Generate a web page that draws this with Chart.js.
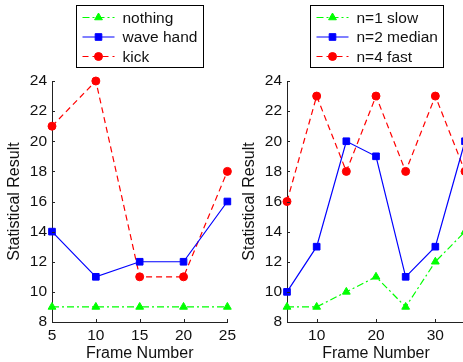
<!DOCTYPE html>
<html>
<head>
<meta charset="utf-8">
<script src="https://cdn.jsdelivr.net/npm/chart.js@4/dist/chart.umd.min.js"></script>
<style>
  html, body { margin: 0; padding: 0; background: #fff; }
  #wrap { position: relative; width: 463px; height: 362px; overflow: hidden; background: #fff; }
  canvas { position: absolute; top: 0; }
</style>
</head>
<body>
<div id="wrap">
  <canvas id="left" width="240" height="362" style="left:0px"></canvas>
  <canvas id="right" width="240" height="362" style="left:235px"></canvas>
</div>
<script>
// left panel: actions
const framesA = [5, 10, 15, 20, 25];
const nothing = [9, 9, 9, 9, 9];
const waveHand = [14, 11, 12, 12, 16];
const kick = [21, 24, 11, 11, 18];
const ticksA = [5, 10, 15, 20, 25];

// right panel: speeds
const framesB = [5, 10, 15, 20, 25, 30, 35];
const slow = [9, 9, 10, 11, 9, 12, 14];
const median = [10, 13, 20, 19, 11, 13, 20];
const fast = [16, 23, 18, 23, 18, 23, 18];
const ticksB = [10, 20, 30];

const yTicks = [8, 10, 12, 14, 16, 18, 20, 22, 24];

const FONT = "'Liberation Sans', Arial, sans-serif";
Chart.defaults.font.family = FONT;
Chart.defaults.color = "#111";

const pts = (xs, ys) => xs.map((x, i) => ({ x: x, y: ys[i] }));

function series(label, xs, ys, color, dash, style, r) {
  return {
    label: label,
    data: pts(xs, ys),
    borderColor: color,
    backgroundColor: color,
    borderWidth: 1.2,
    borderDash: dash,
    pointStyle: style,
    pointRadius: r,
    pointHoverRadius: r,
    pointBorderWidth: 1,
    tension: 0,
    clip: false,
  };
}

function marker(ctx, style, x, y, r) {
  ctx.beginPath();
  if (style === "circle") {
    ctx.arc(x, y, r, 0, Math.PI * 2);
  } else if (style === "rect") {
    const s = r * Math.SQRT1_2;
    ctx.rect(x - s, y - s, 2 * s, 2 * s);
  } else {
    for (let k = 0; k < 3; k++) {
      const a = (k * 2 * Math.PI) / 3;
      const px = x + Math.sin(a) * r, py = y - Math.cos(a) * r;
      k ? ctx.lineTo(px, py) : ctx.moveTo(px, py);
    }
    ctx.closePath();
  }
  ctx.fill();
  ctx.stroke();
}

// boxed legend above the plot, matlab style
const boxLegend = {
  id: "boxLegend",
  afterDraw(chart) {
    const { ctx, chartArea } = chart;
    const sets = chart.data.datasets;
    ctx.save();
    ctx.font = "15.5px " + FONT;
    const textX = 46;
    const maxW = Math.max(...sets.map((d) => ctx.measureText(d.label).width));
    const w = Math.round(textX + maxW + 6);
    const h = 62;
    const left = Math.round((chartArea.left + chartArea.right) / 2 - w / 2) + 0.5;
    const top = 5.5;
    ctx.fillStyle = "#fff";
    ctx.fillRect(left, top, w, h);
    ctx.strokeStyle = "#000";
    ctx.lineWidth = 1;
    ctx.strokeRect(left, top, w, h);
    sets.forEach((d, i) => {
      const y = top + 12 + i * 19.5;
      ctx.strokeStyle = d.borderColor;
      ctx.lineWidth = d.borderWidth;
      ctx.setLineDash(d.borderDash || []);
      ctx.beginPath();
      ctx.moveTo(left + 6, y);
      ctx.lineTo(left + 38, y);
      ctx.stroke();
      ctx.setLineDash([]);
      ctx.fillStyle = d.backgroundColor;
      ctx.lineWidth = 1;
      marker(ctx, d.pointStyle, left + 22, y, d.pointRadius);
      ctx.fillStyle = "#111";
      ctx.textBaseline = "middle";
      ctx.textAlign = "left";
      ctx.fillText(d.label, left + textX, y + 1);
    });
    ctx.restore();
  },
};

// small inward tick marks
const inTicks = {
  id: "inTicks",
  afterDraw(chart) {
    const { ctx, chartArea, scales } = chart;
    ctx.save();
    ctx.strokeStyle = "#222";
    ctx.lineWidth = 1;
    ctx.beginPath();
    scales.x.ticks.forEach((t) => {
      const x = Math.round(scales.x.getPixelForValue(t.value)) + 0.5;
      ctx.moveTo(x, chartArea.bottom);
      ctx.lineTo(x, chartArea.bottom - 3);
    });
    scales.y.ticks.forEach((t) => {
      const y = Math.round(scales.y.getPixelForValue(t.value)) + 0.5;
      ctx.moveTo(chartArea.left, y);
      ctx.lineTo(chartArea.left + 3, y);
    });
    ctx.stroke();
    ctx.restore();
  },
};

function makeChart(id, datasets, xMin, xMax, xTicks, rightPad) {
  new Chart(document.getElementById(id), {
    type: "line",
    data: { datasets: datasets },
    options: {
      responsive: false,
      animation: false,
      events: [],
      layout: { padding: { top: 81, right: rightPad, bottom: 0, left: 0 } },
      plugins: { legend: { display: false }, tooltip: { enabled: false } },
      scales: {
        x: {
          type: "linear",
          min: xMin,
          max: xMax,
          afterBuildTicks: (s) => { s.ticks = xTicks.map((v) => ({ value: v })); },
          afterFit: (s) => { s.height = 40; },
          grid: { display: false, drawTicks: false },
          border: { display: true, color: "#222", width: 1 },
          ticks: { font: { size: 15.5 }, padding: 4, maxRotation: 0, autoSkip: false },
          title: { display: true, text: "Frame Number", font: { size: 16, lineHeight: 1 }, padding: 0 },
        },
        y: {
          min: 8,
          max: 24,
          afterBuildTicks: (s) => { s.ticks = yTicks.map((v) => ({ value: v })); },
          afterFit: (s) => { s.width = 52; },
          grid: { display: false, drawTicks: false },
          border: { display: true, color: "#222", width: 1 },
          ticks: { font: { size: 15.5 }, padding: 5, autoSkip: false },
          title: { display: true, text: "Statistical Result", font: { size: 16, lineHeight: 1 }, padding: { top: 7, bottom: 0 } },
        },
      },
    },
    plugins: [inTicks, boxLegend],
  });
}

makeChart("left", [
  series("nothing", framesA, nothing, "#00ff00", [7, 3, 2, 3], "triangle", 4.5),
  series("wave hand", framesA, waveHand, "#0000ff", [], "rect", 4.7),
  series("kick", framesA, kick, "#ff0000", [6, 4], "circle", 4),
], 5, 25, ticksA, 10);

makeChart("right", [
  series("n=1 slow", framesB, slow, "#00ff00", [7, 3, 2, 3], "triangle", 4.5),
  series("n=2 median", framesB, median, "#0000ff", [], "rect", 4.7),
  series("n=4 fast", framesB, fast, "#ff0000", [6, 4], "circle", 4),
], 5, 35, ticksB, 10);
</script>
</body>
</html>
